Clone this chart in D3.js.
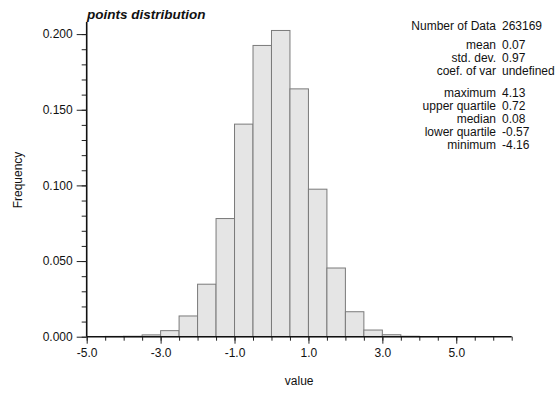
<!DOCTYPE html>
<html>
<head>
<meta charset="utf-8">
<script src="https://cdn.jsdelivr.net/npm/d3@7"></script>
<style>
  body { margin: 0; background: #fff; }
  svg text { font-family: "Liberation Sans", Arial, Helvetica, sans-serif; fill: #111; }
</style>
</head>
<body>
<div id="chart"></div>
<script>
// histogram bins (left edge, width 0.5) and their frequencies
var binStarts = [-4.5, -4.0, -3.5, -3.0, -2.5, -2.0, -1.5, -1.0, -0.5, 0.0, 0.5, 1.0, 1.5, 2.0, 2.5, 3.0, 3.5, 4.0];
var frequencies = [0.0002, 0.0003, 0.0012, 0.0040, 0.0137, 0.0347, 0.0781, 0.1405, 0.1925, 0.2024, 0.1638, 0.0975, 0.0454, 0.0165, 0.0044, 0.0013, 0.0003, 0.0001];
var binWidth = 0.5;

// axis ticks
var xMajorTicks = [-5, -3, -1, 1, 3, 5];
var yMajorTicks = [0, 0.05, 0.10, 0.15, 0.20];

// summary statistics block
var statLabels = ["Number of Data", "mean", "std. dev.", "coef. of var", "maximum", "upper quartile", "median", "lower quartile", "minimum"];
var statValues = ["263169", "0.07", "0.97", "undefined", "4.13", "0.72", "0.08", "-0.57", "-4.16"];

var W = 559, H = 394;
var plotLeft = 86.7, plotRight = 511.7, plotTop = 22, plotBottom = 336.7;

var svg = d3.select("#chart").append("svg")
  .attr("width", W)
  .attr("height", H);

var x = d3.scaleLinear().domain([-5, 6.5]).range([plotLeft, plotRight]);
var y = d3.scaleLinear().domain([0, 0.208]).range([plotBottom, plotTop]);

// plain hyphen for negatives, like the original
var fmtX = function(d) { return d3.format(".1f")(d).replace("\u2212", "-"); };
var fmtY = function(d) { return d3.format(".3f")(d); };

// bars
svg.selectAll(".bar")
  .data(binStarts)
  .enter().append("rect")
  .attr("class", "bar")
  .attr("x", function(d) { return x(d); })
  .attr("width", function(d) { return x(d + binWidth) - x(d); })
  .attr("y", function(d, i) { return y(frequencies[i]); })
  .attr("height", function(d, i) { return plotBottom - y(frequencies[i]); })
  .attr("fill", "#e5e5e5")
  .attr("stroke", "#7a7a7a")
  .attr("stroke-width", 1);

// x axis: minor ticks every 0.5, labels every 2
var xMinor = d3.range(-5, 6.51, 0.5);
svg.append("g")
  .attr("transform", "translate(0," + plotBottom + ")")
  .call(d3.axisBottom(x).tickValues(xMinor).tickSize(4).tickFormat(""))
  .call(function(g) { g.select(".domain").remove(); })
  .selectAll("line").attr("stroke", "#222");

svg.append("g")
  .attr("transform", "translate(0," + plotBottom + ")")
  .call(d3.axisBottom(x).tickValues(xMajorTicks).tickSize(7).tickPadding(5).tickFormat(fmtX))
  .call(function(g) {
    g.select(".domain").attr("d", "M" + plotLeft + ",0H" + plotRight).attr("stroke", "#111").attr("stroke-width", 1.6);
    g.selectAll("line").attr("stroke", "#222");
    g.selectAll("text").attr("font-size", "12px").attr("fill", "#111")
      .style("font-family", "'Liberation Sans', Arial, sans-serif");
  });

// y axis: minor ticks every 0.01, labels every 0.05
var yMinor = d3.range(0, 0.2001, 0.01);
svg.append("g")
  .attr("transform", "translate(" + plotLeft + ",0)")
  .call(d3.axisLeft(y).tickValues(yMinor).tickSize(5).tickFormat(""))
  .call(function(g) { g.select(".domain").remove(); })
  .selectAll("line").attr("stroke", "#222");

svg.append("g")
  .attr("transform", "translate(" + plotLeft + ",0)")
  .call(d3.axisLeft(y).tickValues(yMajorTicks).tickSize(10).tickPadding(4).tickFormat(fmtY))
  .call(function(g) {
    g.select(".domain").attr("d", "M0," + plotTop + "V" + plotBottom).attr("stroke", "#111").attr("stroke-width", 1.6);
    g.selectAll("line").attr("stroke", "#222");
    g.selectAll("text").attr("font-size", "12px").attr("fill", "#111")
      .style("font-family", "'Liberation Sans', Arial, sans-serif");
  });

// title
svg.append("text")
  .attr("x", 87)
  .attr("y", 19)
  .style("font-size", "13.5px")
  .style("font-weight", "bold")
  .style("font-style", "italic")
  .text("points distribution");

// axis labels
svg.append("text")
  .attr("x", (plotLeft + plotRight) / 2)
  .attr("y", 385)
  .attr("text-anchor", "middle")
  .style("font-size", "12px")
  .text("value");

svg.append("text")
  .attr("transform", "translate(22,180) rotate(-90)")
  .attr("text-anchor", "middle")
  .style("font-size", "12px")
  .text("Frequency");

// statistics block
var statY = [30, 49, 62, 75, 97, 110, 123, 136, 149];
var stats = svg.append("g");
stats.selectAll(".slabel")
  .data(statLabels)
  .enter().append("text")
  .attr("x", 496)
  .attr("y", function(d, i) { return statY[i]; })
  .attr("text-anchor", "end")
  .style("font-size", "12px")
  .text(function(d) { return d; });

stats.selectAll(".svalue")
  .data(statValues)
  .enter().append("text")
  .attr("x", 502)
  .attr("y", function(d, i) { return statY[i]; })
  .style("font-size", "12px")
  .text(function(d) { return d; });
</script>
</body>
</html>
